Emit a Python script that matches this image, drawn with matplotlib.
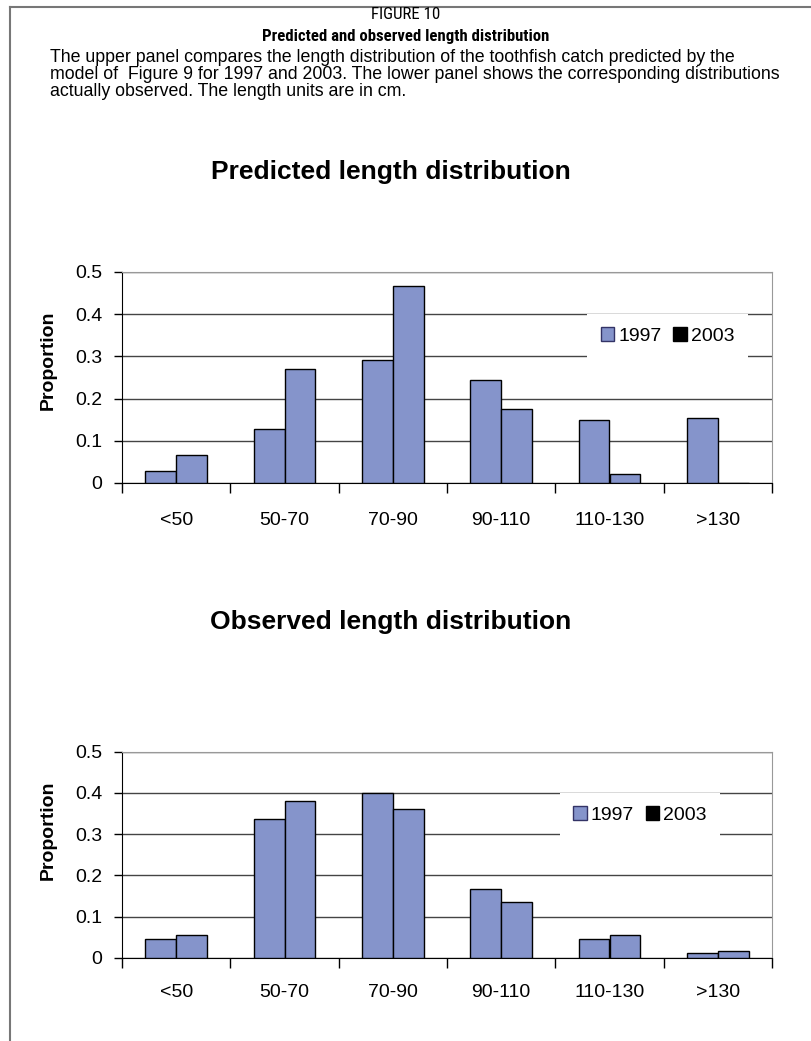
import matplotlib.pyplot as plt
import numpy as np
from matplotlib.lines import Line2D
from matplotlib.patches import Patch

categories = ["<50", "50-70", "70-90", "90-110", "110-130", ">130"]
pred_1997 = [0.029, 0.129, 0.291, 0.245, 0.150, 0.154]
pred_2003 = [0.067, 0.270, 0.467, 0.175, 0.021, 0.0]
obs_1997 = [0.047, 0.337, 0.401, 0.167, 0.047, 0.013]
obs_2003 = [0.056, 0.380, 0.362, 0.136, 0.056, 0.017]
yticks = [0, 0.1, 0.2, 0.3, 0.4, 0.5]
ytick_labels = ["0", "0.1", "0.2", "0.3", "0.4", "0.5"]

caption = [
    "The upper panel compares the length distribution of the toothfish catch predicted by the",
    "model of  Figure 9 for 1997 and 2003. The lower panel shows the corresponding distributions",
    "actually observed. The length units are in cm.",
]

BAR = "#8594CB"
W, H = 811, 1041
plt.rcParams["font.family"] = ["Liberation Sans", "DejaVu Sans"]
head_font = ["Liberation Sans Narrow", "Roboto Condensed", "Liberation Sans"]

fig = plt.figure(figsize=(W / 100, H / 100), dpi=100)
renderer = fig.canvas.get_renderer()

# page frame lines
fig.add_artist(Line2D([10 / W, 10 / W], [0, 1 - 7 / H], transform=fig.transFigure, color="#777777", lw=1.5))
fig.add_artist(Line2D([10 / W, 1], [1 - 7 / H, 1 - 7 / H], transform=fig.transFigure, color="#777777", lw=1.5))

fig.text(406 / W, 1 - 14.5 / H, "FIGURE 10", ha="center", va="center", fontsize=12.2, family=head_font)
fig.text(406 / W, 1 - 37 / H, "Predicted and observed length distribution", ha="center", va="center",
         fontsize=12.1, fontweight="bold", family=head_font)

# caption: fit the widest line to the reference width, then the line pitch to 17 px
ls = 1.0
cap = fig.text(50 / W, 1 - 49 / H, "\n".join(caption), ha="left", va="top", fontsize=11,
               family="Liberation Sans", linespacing=ls)
w = cap.get_window_extent(renderer).width
cap.set_fontsize(11 * 729 / w)
one = fig.text(0, 0, caption[0], fontsize=cap.get_fontsize(), family="Liberation Sans")
h1 = one.get_window_extent(renderer).height
one.remove()
for _ in range(3):
    pitch = (cap.get_window_extent(renderer).height - h1) / 2
    ls = ls * 17 / pitch
    cap.set_linespacing(ls)


def panel(rect, title, title_y, v1997, v2003, leg_xy, ylab_y, xpad):
    ax = fig.add_axes(rect)
    x = np.arange(len(categories)) + 0.5
    w = 0.286
    ax.bar(x - w / 2, v1997, w, color=BAR, edgecolor="black", linewidth=1, zorder=3)
    ax.bar(x + w / 2, v2003, w, color=BAR, edgecolor="black", linewidth=1, zorder=3)
    ax.set_xlim(0, len(categories))
    ax.set_ylim(0, 0.5)
    ax.set_yticks(yticks)
    ax.set_yticklabels(ytick_labels, fontsize=14)
    ax.set_xticks(np.arange(len(categories) + 1))
    ax.set_xticklabels([])
    ax.set_xticks(x, minor=True)
    ax.set_xticklabels(categories, minor=True, fontsize=14)
    ax.tick_params(axis="x", which="major", direction="out", length=7, width=1)
    ax.tick_params(axis="x", which="minor", length=0, pad=xpad)
    ax.tick_params(axis="y", direction="out", length=6, width=1, pad=8)
    ax.grid(axis="y", color="#444444", linewidth=1)
    ax.set_axisbelow(True)
    ax.spines["top"].set_color("#999999")
    ax.spines["right"].set_color("#999999")
    ax.set_ylabel("Proportion", fontsize=14, fontweight="bold")
    ax.yaxis.set_label_coords(-0.1, ylab_y)
    handles = [Patch(facecolor=BAR, edgecolor="#333366", label="1997"),
               Patch(facecolor="black", edgecolor="black", label="2003")]
    leg = ax.legend(handles=handles, loc="center", bbox_to_anchor=leg_xy, ncol=2, fontsize=14,
                    frameon=True, framealpha=1, edgecolor="none", fancybox=False,
                    handlelength=0.7, handleheight=0.7, handletextpad=0.2, columnspacing=0.6,
                    borderpad=0.7)
    leg.set_zorder(5)
    fig.text(391 / W, 1 - title_y / H, title, ha="center", va="center", fontsize=19, fontweight="bold")
    return ax


panel([122 / W, 1 - 483 / H, 650 / W, 211 / H], "Predicted length distribution", 172,
      pred_1997, pred_2003, (0.839, 0.697), 0.58, 21)
panel([122 / W, 1 - 958 / H, 650 / W, 206.3 / H], "Observed length distribution", 622,
      obs_1997, obs_2003, (0.797, 0.693), 0.62, 19)

fig.savefig("out.png", dpi=100)
